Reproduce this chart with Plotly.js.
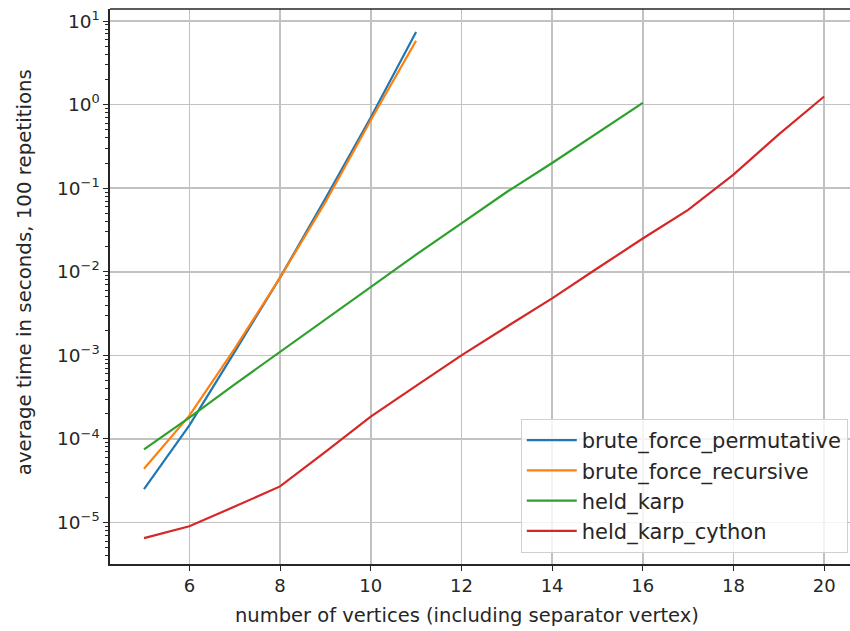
<!DOCTYPE html>
<html>
<head>
<meta charset="utf-8">
<script src="https://cdn.plot.ly/plotly-3.0.1.min.js"></script>
<style>html,body{margin:0;padding:0;background:#fff;}#chart{width:850px;height:631px;}</style>
</head>
<body>
<div id="chart"></div>
<script>
// Average run time (seconds, 100 repetitions) per TSP solver vs. number of vertices
const vertsBrute = [5, 6, 7, 8, 9, 10, 11];
const vertsHeld = [5, 6, 7, 8, 9, 10, 11, 12, 13, 14, 15, 16];
const vertsCython = [5, 6, 7, 8, 9, 10, 11, 12, 13, 14, 15, 16, 17, 18, 19, 20];

const bruteForcePermutative = [2.5e-5, 1.45e-4, 1.1e-3, 8.5e-3, 7.5e-2, 0.7, 7.4];
const bruteForceRecursive = [4.4e-5, 1.9e-4, 1.2e-3, 8.5e-3, 6.8e-2, 0.65, 5.8];
const heldKarp = [7.5e-5, 1.8e-4, 4.5e-4, 1.1e-3, 2.7e-3, 6.7e-3, 1.6e-2, 3.8e-2, 9e-2, 0.2, 0.46, 1.05];
const heldKarpCython = [6.5e-6, 9e-6, 1.55e-5, 2.7e-5, 7.0e-5, 1.85e-4, 4.3e-4, 1e-3, 2.2e-3, 4.8e-3, 1.1e-2, 2.5e-2, 5.5e-2, 0.145, 0.44, 1.25];

const seriesNames = ["brute_force_permutative", "brute_force_recursive", "held_karp", "held_karp_cython"];
const seriesColors = ["#1f77b4", "#ff7f0e", "#2ca02c", "#d62728"];

const xTickVals = [6, 8, 10, 12, 14, 16, 18, 20];
const yTickVals = [1e-5, 1e-4, 1e-3, 1e-2, 1e-1, 1, 10];
const yTickText = ["10<sup>−5</sup>", "10<sup>−4</sup>", "10<sup>−3</sup>", "10<sup>−2</sup>", "10<sup>−1</sup>", "10<sup>0</sup>", "10<sup>1</sup>"];

const xTitle = "number of vertices (including separator vertex)";
const yTitle = "average time in seconds, 100 repetitions";

// minor log ticks at 2..9 × each decade
const yMinor = [];
for (let e = -6; e <= 1; e++) {
  for (let m = 2; m <= 9; m++) yMinor.push(m * Math.pow(10, e));
}

const xs = [vertsBrute, vertsBrute, vertsHeld, vertsCython];
const ys = [bruteForcePermutative, bruteForceRecursive, heldKarp, heldKarpCython];

const traces = ys.map((y, i) => ({
  type: "scatter",
  mode: "lines",
  x: xs[i],
  y: y,
  name: seriesNames[i],
  line: { color: seriesColors[i], width: 2.2 }
}));

const font = { family: "DejaVu Sans, sans-serif", color: "#262626" };
const gridColor = "#c2c2c2";

const layout = {
  width: 850,
  height: 631,
  margin: { l: 110, r: 0, t: 9, b: 67 },
  paper_bgcolor: "#fff",
  plot_bgcolor: "#fff",
  font: Object.assign({ size: 18 }, font),
  showlegend: true,
  legend: {
    x: 0.997, xanchor: "right",
    y: 0.02, yanchor: "bottom",
    bgcolor: "rgba(255,255,255,0.8)",
    bordercolor: "#d0d0d0",
    borderwidth: 1,
    itemwidth: 50,
    font: Object.assign({ size: 21 }, font),
    tracegroupgap: 0
  },
  xaxis: {
    range: [4.25, 20.57],
    tickvals: xTickVals,
    ticks: "outside",
    ticklen: 5,
    tickcolor: "#262626",
    showgrid: true,
    gridcolor: gridColor,
    gridwidth: 1.6,
    zeroline: false,
    showline: true,
    linecolor: "#262626",
    linewidth: 1.6,
    tickfont: Object.assign({ size: 18 }, font)
  },
  yaxis: {
    type: "log",
    range: [-5.497, 1.144],
    tickvals: yTickVals,
    ticktext: yTickText,
    ticks: "outside",
    ticklen: 5,
    tickcolor: "#262626",
    showgrid: true,
    gridcolor: gridColor,
    gridwidth: 1.6,
    zeroline: false,
    showline: true,
    linecolor: "#262626",
    linewidth: 1.6,
    tickfont: Object.assign({ size: 18.5 }, font),
    minor: { tickvals: yMinor, ticks: "outside", ticklen: 3, tickcolor: "#262626", showgrid: false }
  },
  annotations: [
    { text: xTitle, xref: "paper", yref: "paper", x: 0.482, y: -0.092, xanchor: "center", yanchor: "middle",
      showarrow: false, font: Object.assign({ size: 19.5 }, font) },
    { text: yTitle, xref: "paper", yref: "paper", x: -0.116, y: 0.526, xanchor: "center", yanchor: "middle",
      textangle: -90, showarrow: false, font: Object.assign({ size: 19.8 }, font) }
  ],
  shapes: [
    { type: "line", xref: "paper", yref: "paper", x0: 0, x1: 1, y0: 1, y1: 1, line: { color: "#262626", width: 1.6 } }
  ]
};

Plotly.newPlot("chart", traces, layout, { displayModeBar: false, staticPlot: true });
</script>
</body>
</html>
